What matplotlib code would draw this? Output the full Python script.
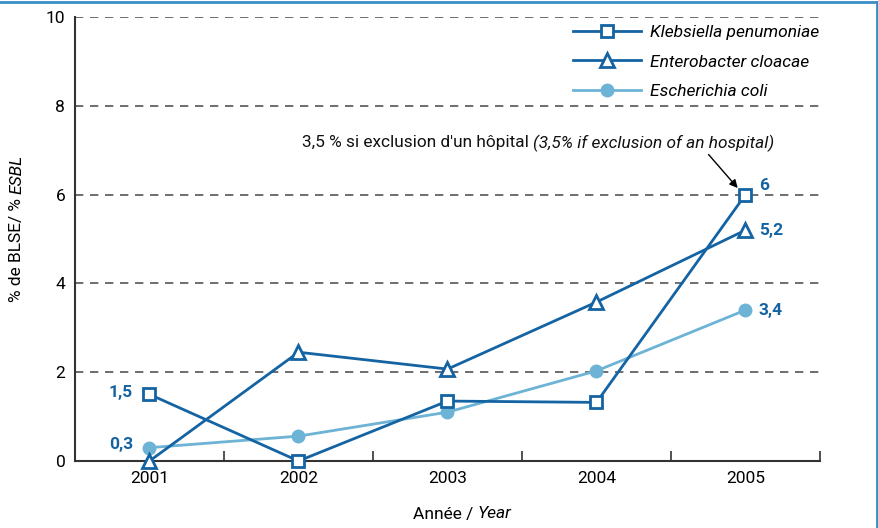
import matplotlib
matplotlib.use("Agg")
import matplotlib.pyplot as plt
from matplotlib.lines import Line2D
from matplotlib.ticker import FixedLocator

plt.rcParams['font.family'] = ['Roboto', 'DejaVu Sans']

years = [2001, 2002, 2003, 2004, 2005]
klebsiella = [1.5, 0.0, 1.35, 1.32, 6.0]
enterobacter = [0.0, 2.45, 2.07, 3.58, 5.2]
ecoli = [0.3, 0.56, 1.1, 2.03, 3.4]
series_names = ["Klebsiella penumoniae", "Enterobacter cloacae", "Escherichia coli"]
yticks = [0, 2, 4, 6, 8, 10]

DARK = "#1463a3"
LIGHT = "#6cb3d6"
GRID = "#555555"
W, H = 879, 528

fig = plt.figure(figsize=(W/100, H/100), dpi=100)
ax = fig.add_axes([75/W, 1-461/H, (820-75)/W, (461-17)/H])

for y in yticks[1:]:
    ax.axhline(y, color=GRID, lw=1.2, ls=(0, (5, 4)), zorder=1)

ax.plot(years, klebsiella, color=DARK, lw=2.0, marker='s', ms=9, mfc='white',
        mec=DARK, mew=2.0, label=series_names[0], zorder=4, clip_on=False)
ax.plot(years, enterobacter, color=DARK, lw=2.0, marker='^', ms=10, mfc='white',
        mec=DARK, mew=2.0, label=series_names[1], zorder=4, clip_on=False)
ax.plot(years, ecoli, color=LIGHT, lw=2.0, marker='o', ms=9, mfc=LIGHT,
        mec=LIGHT, label=series_names[2], zorder=3, clip_on=False)

ax.set_xlim(2000.5, 2005.5)
ax.set_ylim(0, 10)
ax.set_xticks(years)
ax.set_xticklabels([str(y) for y in years])
ax.xaxis.set_minor_locator(FixedLocator([2001.5, 2002.5, 2003.5, 2004.5, 2005.5]))
ax.tick_params(axis='x', which='major', length=0, pad=7, labelsize=12.5)
ax.tick_params(axis='x', which='minor', length=7, direction='in', width=1.2, color='#333333')
ax.set_yticks(yticks)
ax.tick_params(axis='y', length=0, pad=7, labelsize=12.5)

for s in ['top', 'right']:
    ax.spines[s].set_visible(False)
for s in ['left', 'bottom']:
    ax.spines[s].set_color('#333333')
    ax.spines[s].set_linewidth(1.5)

# data labels
lab = dict(color=DARK, fontsize=12.5, fontweight='bold', va='center')
ax.text(years[0] - 0.11, klebsiella[0] + 0.05, "1,5", ha='right', **lab)
ax.text(years[0] - 0.11, ecoli[0] + 0.08, "0,3", ha='right', **lab)
ax.text(years[4] + 0.09, klebsiella[4] + 0.2, "6", ha='left', **lab)
ax.text(years[4] + 0.09, enterobacter[4], "5,2", ha='left', **lab)
ax.text(years[4] + 0.09, ecoli[4], "3,4", ha='left', **lab)

# annotation
t1 = fig.text(302/W, 1-143/H, "3,5 % si exclusion d'un hôpital ",
              fontsize=12, ha='left', va='center', color='#111111')
t2 = ax.annotate("(3,5% if exclusion of an hospital)", xy=(1, 0.5), xycoords=t1,
                 ha='left', va='center', fontsize=12, style='italic', color='#111111')
ax.annotate("", xy=(years[4] - 0.04, klebsiella[4] + 0.1), xytext=(2004.74, 6.95),
            arrowprops=dict(arrowstyle='-|>', color='black', lw=1.0, mutation_scale=12))

# legend
leg = ax.legend(loc='center left', bbox_to_anchor=(573/W, 1-62/H),
                bbox_transform=fig.transFigure, frameon=False, fontsize=12.5,
                handlelength=68/17.4, labelspacing=0.85, handletextpad=0.55,
                borderpad=0, borderaxespad=0)
for t in leg.get_texts():
    t.set_style('italic')

# axis labels
xl1 = fig.text(413/W, 1-514/H, "Année / ", fontsize=12.5, ha='left', va='center')
ax.annotate("Year", xy=(1, 0.5), xycoords=xl1, ha='left', va='center', fontsize=12.5,
            style='italic')
yl1 = fig.text(17/W, 1-302/H, "% de BLSE/ % ", fontsize=12.5, ha='center', va='bottom',
               rotation=90)
ax.annotate("ESBL", xy=(0.5, 1), xycoords=yl1, ha='center', va='bottom', fontsize=12.5,
            style='italic', rotation=90)

# fit annotation width to the reference span (302 -> 771 px)
fig.canvas.draw()
r = fig.canvas.get_renderer()
x0 = t1.get_window_extent(r).x0
x1 = t2.get_window_extent(r).x1
scale = (771 - 302) / (x1 - x0)
t1.set_fontsize(12 * scale)
t2.set_fontsize(12 * scale)

# frame lines (top and right)
fig.add_artist(Line2D([0, 877.5/W], [1-2/H, 1-2/H], transform=fig.transFigure,
                      color='#3a8cc4', lw=2))
fig.add_artist(Line2D([877.5/W, 877.5/W], [0, 1-2/H], transform=fig.transFigure,
                      color='#3a8cc4', lw=2))

fig.savefig("out.png", dpi=100)
